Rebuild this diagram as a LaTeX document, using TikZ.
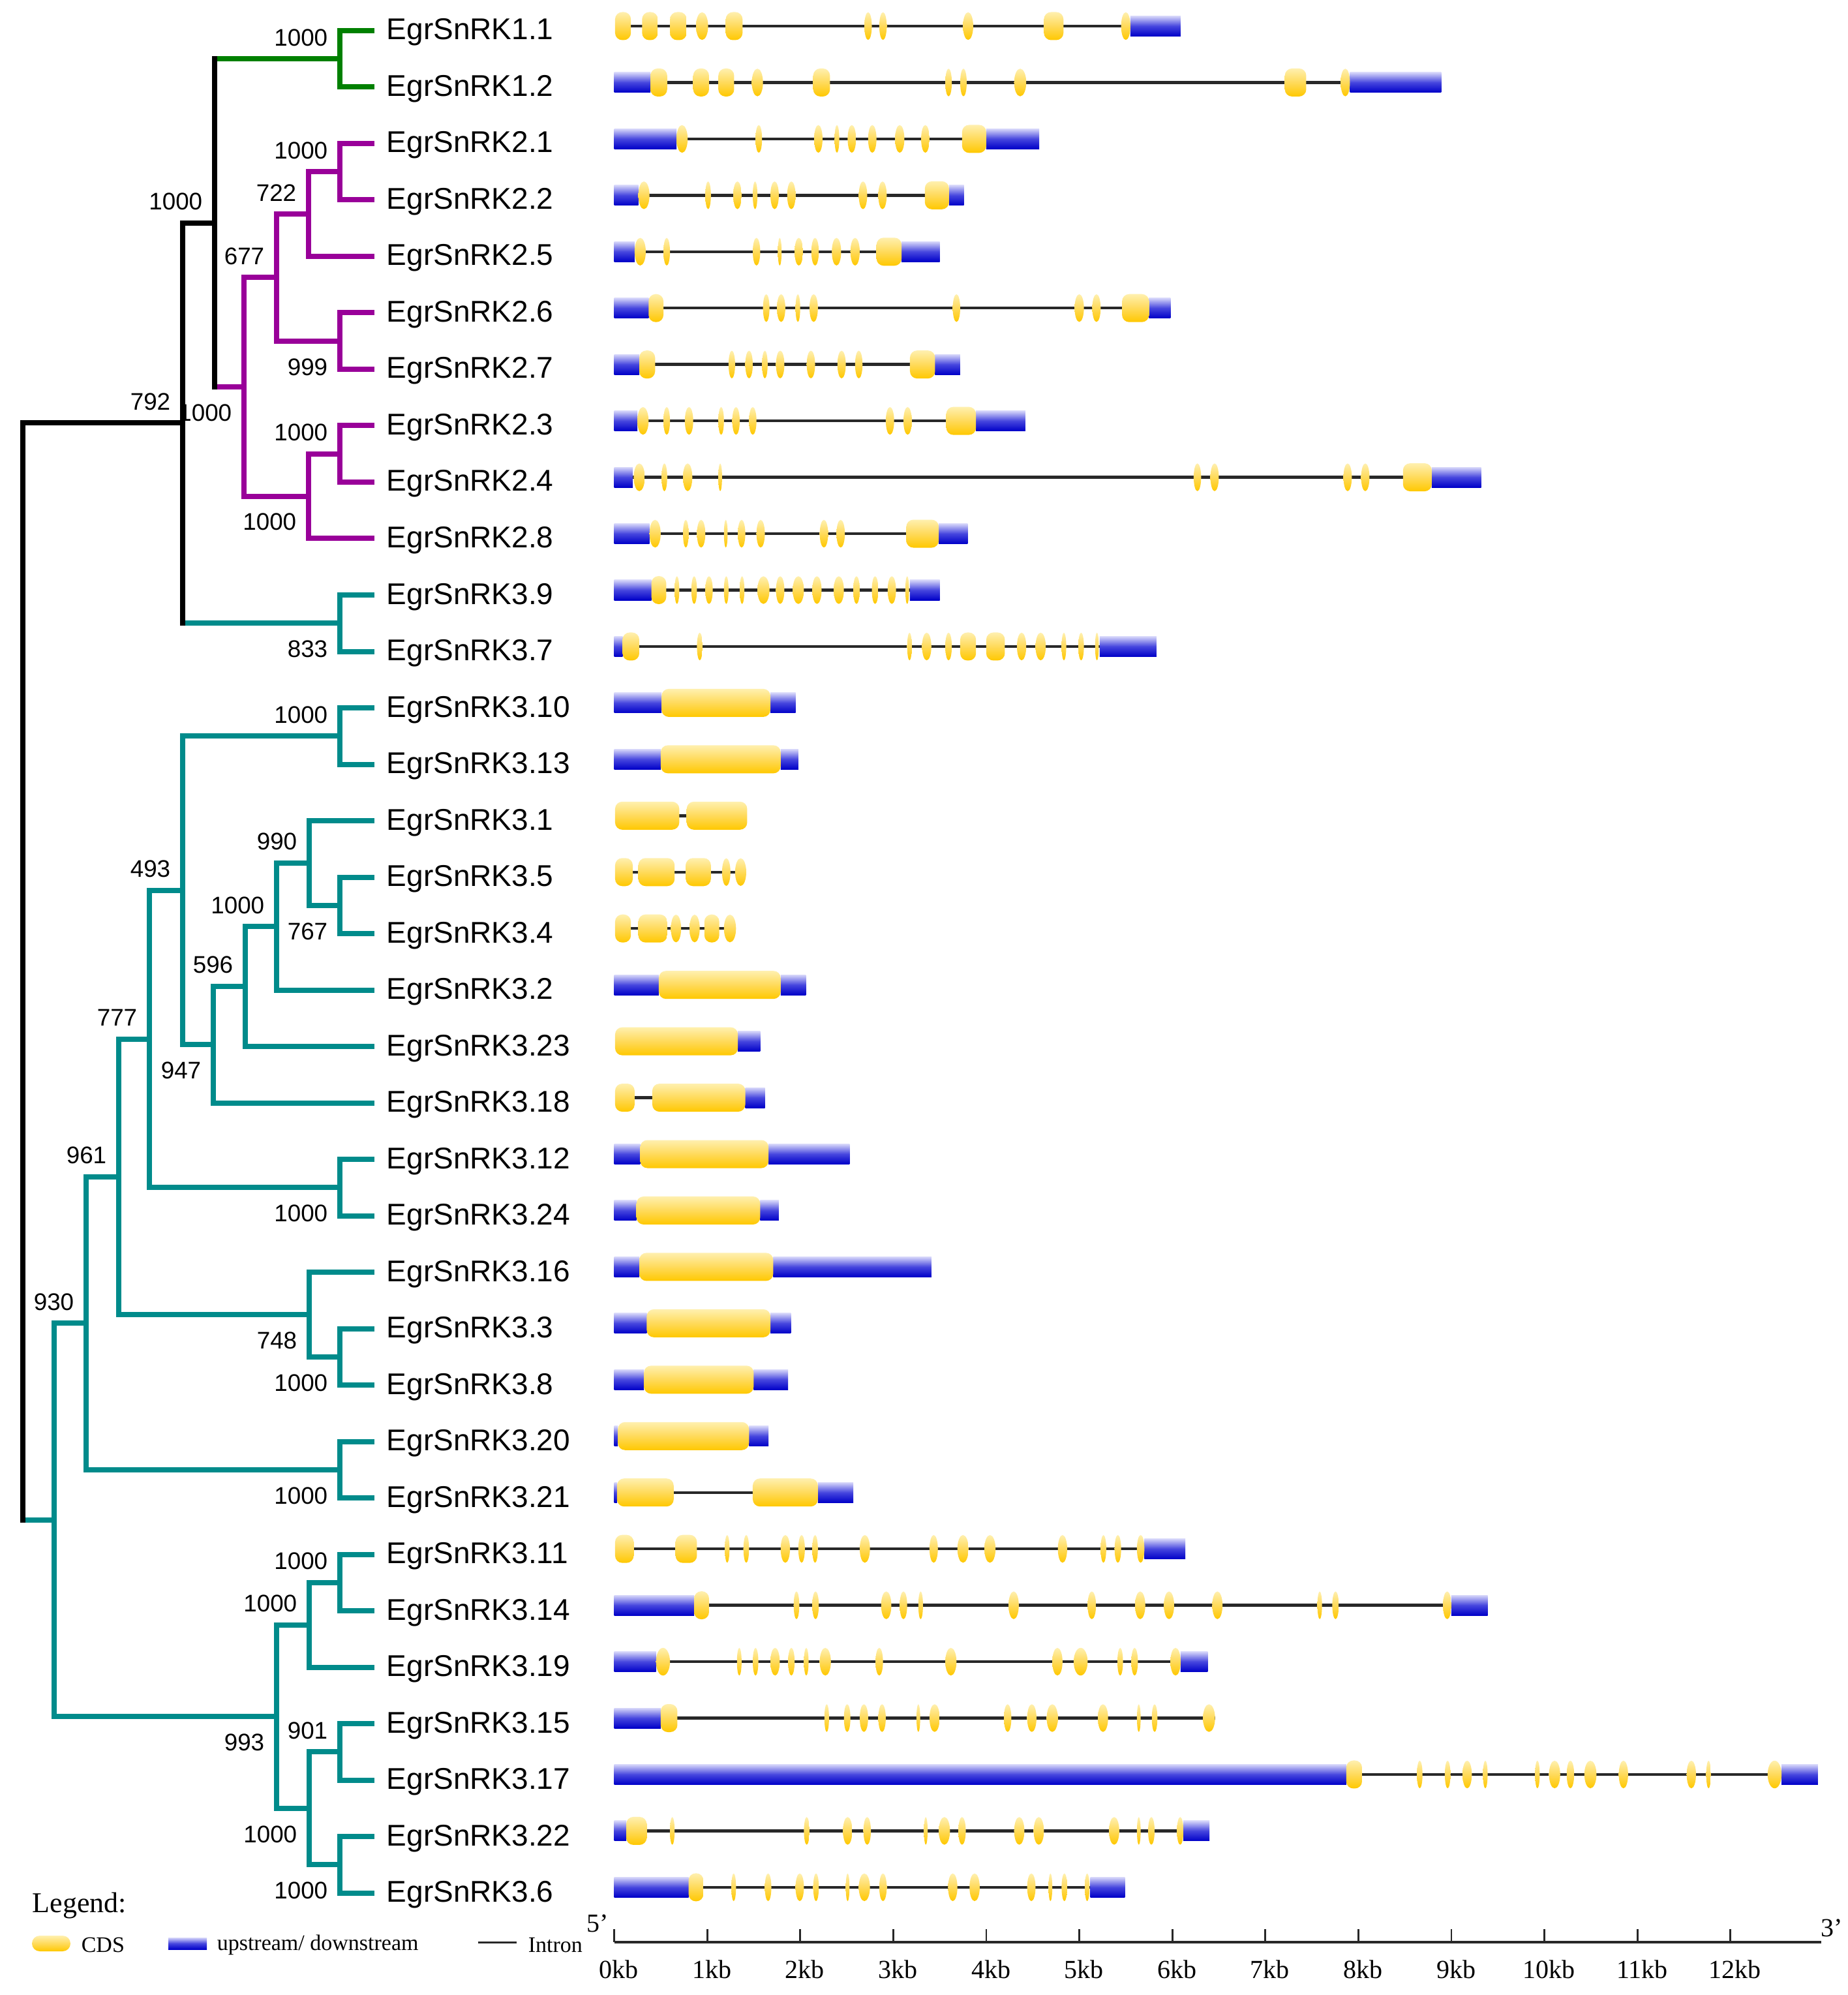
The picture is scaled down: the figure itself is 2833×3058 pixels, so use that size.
\documentclass[tikz,border=0pt]{standalone}
\usepackage{fontspec}
\setmainfont{Liberation Serif}
\newfontfamily\arialf{Liberation Sans}
\usetikzlibrary{calc}
\definecolor{gGreen}{RGB}{0,128,0}
\definecolor{gPurple}{RGB}{153,0,153}
\definecolor{gTeal}{RGB}{0,139,139}
\definecolor{cdsTop}{RGB}{255,240,175}
\definecolor{cdsMid}{RGB}{255,218,90}
\definecolor{cdsBot}{RGB}{255,200,0}
\definecolor{utrTop}{RGB}{215,215,250}
\definecolor{utrMid}{RGB}{70,70,222}
\definecolor{utrBot}{RGB}{0,0,200}
\definecolor{intronC}{RGB}{40,40,40}
\newcommand\cdsshape[2]{%
  \pgfmathsetmacro\cw{(#2-#1)*35.65}%
  \ifdim\cw pt<5.5pt
    \pgfmathsetmacro\cx{(#1+#2)/2}%
    \shade[cdsshade] (\cx,\gy) ellipse [x radius=\cw pt/2, y radius=5.3pt];
  \else
    \pgfmathsetmacro\cr{min(\cw/2,2.75)}%
    \shade[cdsshade, rounded corners=\cr pt] (#1,\gy-21.5) rectangle (#2,\gy+21.5);
  \fi}
\newcommand\gene[5]{%
  \pgfmathsetmacro\gy{40+86.45*#1}%
  \draw[intronline] (#2,\gy) -- (#3,\gy);
  \if\relax\detokenize{#4}\relax\else
    \foreach \a/\b in {#4}{\shade[utrshade] (\a,\gy-15.5) rectangle (\b,\gy+15.5);}%
  \fi
  \foreach \a/\b in {#5}{\cdsshape{\a}{\b}}}
\begin{document}
\begin{tikzpicture}[x=0.25pt,y=-0.25pt,
  br/.style={line width=2pt},
  vb/.style={line width=2pt, black, line cap=rect},
  bs/.style={font=\arialf\fontsize{9.2}{10}\selectfont, anchor=east, inner sep=0pt},
  bsa/.style={bs, xshift=-4.5pt, yshift=8.2pt},
  bsb/.style={bs, xshift=-4.5pt, yshift=-9.9pt},
  leaflab/.style={font=\arialf\fontsize{11.5}{13}\selectfont, anchor=base west, inner sep=0pt},
  intronline/.style={line width=1.1pt, draw=intronC},
  cdsshade/.style={top color=cdsTop, bottom color=cdsBot, middle color=cdsMid},
  utrshade/.style={top color=utrTop, bottom color=utrBot, middle color=utrMid},
  legtxt/.style={font=\fontsize{8.5}{10}\selectfont, anchor=west, inner sep=0pt},
  axlab/.style={font=\fontsize{10}{12}\selectfont, inner sep=0pt}]
\useasboundingbox (0,0) rectangle (2833,3058);
\fill[white] (0,0) rectangle (2833,3058);
% leaves
\foreach \i in {0,...,33}{\coordinate (L\i) at (574,{47+86.5*\i});}
\foreach \i/\t in {0/1.1,1/1.2,2/2.1,3/2.2,4/2.5,5/2.6,6/2.7,7/2.3,8/2.4,9/2.8,10/3.9,11/3.7,12/3.10,13/3.13,14/3.1,15/3.5,16/3.4,17/3.2,18/3.23,19/3.18,20/3.12,21/3.24,22/3.16,23/3.3,24/3.8,25/3.20,26/3.21,27/3.11,28/3.14,29/3.19,30/3.15,31/3.17,32/3.22,33/3.6}
  {\node[leaflab] (t\i) at (592,{47+86.5*\i+14}) {EgrSnRK\t};}
% internal nodes
\coordinate (n11) at (521,90.25);
\coordinate (n2a) at (521,263.25);
\coordinate (n2b) at (473,328.1);
\coordinate (n2c) at (521,522.75);
\coordinate (n2d) at (424,425.4);
\coordinate (n2e) at (521,695.75);
\coordinate (n2f) at (473,760.6);
\coordinate (n2) at (374,593);
\coordinate (n12) at (329,341.6);
\coordinate (n37) at (521,955.25);
\coordinate (nA) at (280,648.4);
\coordinate (m1) at (521,1128.25);
\coordinate (m2) at (521,1387.75);
\coordinate (m3) at (474,1322.9);
\coordinate (m4) at (424,1420.2);
\coordinate (m5) at (376,1512.1);
\coordinate (m6) at (327,1601.3);
\coordinate (m7) at (280,1364.8);
\coordinate (m8) at (521,1820.25);
\coordinate (m9) at (229,1592.5);
\coordinate (m10) at (521,2079.75);
\coordinate (m11) at (474,2014.9);
\coordinate (m12) at (182,1803.7);
\coordinate (m13) at (521,2252.75);
\coordinate (m14) at (132,2028.2);
\coordinate (m15) at (521,2425.75);
\coordinate (m16) at (474,2490.6);
\coordinate (m17) at (521,2685.25);
\coordinate (m18) at (521,2858.25);
\coordinate (m19) at (474,2771.75);
\coordinate (m20) at (424,2631.2);
\coordinate (m21) at (83,2329.7);
\coordinate (root) at (35,1489);
% branches
\draw[br,gGreen] (n11) |- (L0); \draw[br,gGreen] (n11) |- (L1);
\draw[br,gGreen] (n12|-n11) -- (n11);
\draw[br,gPurple] (n12|-n2) -- (n2);
\draw[vb] (n12|-n11) -- (n12|-n2);
\foreach \p/\c in {n2/n2d,n2/n2f,n2d/n2b,n2d/n2c,n2b/n2a,n2b/L4,n2a/L2,n2a/L3,n2c/L5,n2c/L6,n2f/n2e,n2f/L9,n2e/L7,n2e/L8}
  {\draw[br,gPurple] (\p) |- (\c);}
\draw[br,black] (nA|-n12) -- (n12);
\draw[br,gTeal] (nA|-n37) -- (n37);
\draw[vb] (nA|-n12) -- (nA|-n37);
\draw[br,gTeal] (n37) |- (L10); \draw[br,gTeal] (n37) |- (L11);
\draw[br,black] (root|-nA) -- (nA);
\draw[br,gTeal] (root|-m21) -- (m21);
\draw[vb] (root|-nA) -- (root|-m21);
\foreach \p/\c in {m21/m14,m21/m20,m14/m12,m14/m13,m12/m9,m12/m11,m9/m7,m9/m8,m7/m1,m7/m6,m1/L12,m1/L13,m6/m5,m6/L19,m5/m4,m5/L18,m4/m3,m4/L17,m3/L14,m3/m2,m2/L15,m2/L16,m8/L20,m8/L21,m11/L22,m11/m10,m10/L23,m10/L24,m13/L25,m13/L26,m20/m16,m20/m19,m16/m15,m16/L29,m15/L27,m15/L28,m19/m17,m19/m18,m17/L30,m17/L31,m18/L32,m18/L33}
  {\draw[br,gTeal] (\p) |- (\c);}
% bootstrap values
\node[bsa] (b1) at (n11) {1000};
\node[bsa] (b2) at (n12) {1000};
\node[bsa] (b3) at (n2a) {1000};
\node[bsa] (b4) at (n2b) {722};
\node[bsa] (b5) at (n2d) {677};
\node[bsb] (b6) at (n2c) {999};
\node[bsa] (b7) at (nA) {792};
\node[bsb] (b8) at (n2) {1000};
\node[bsa] (b9) at (n2e) {1000};
\node[bsb] (b10) at (n2f) {1000};
\node[bsb] (b11) at (n37) {833};
\node[bsa] (b12) at (m1) {1000};
\node[bsa] (b13) at (m3) {990};
\node[bsa] (b14) at (m7) {493};
\node[bsa] (b15) at (m4) {1000};
\node[bsb] (b16) at (m2) {767};
\node[bsa] (b17) at (m5) {596};
\node[bsa] (b18) at (m9) {777};
\node[bsb] (b19) at (m6) {947};
\node[bsb] (b20) at (m8) {1000};
\node[bsa] (b21) at (m12) {961};
\node[bsa] (b22) at (m14) {930};
\node[bsb] (b23) at (m11) {748};
\node[bsb] (b24) at (m10) {1000};
\node[bsb] (b25) at (m13) {1000};
\node[bsa] (b26) at (m15) {1000};
\node[bsa] (b27) at (m16) {1000};
\node[bsb] (b28) at (m20) {993};
\node[bsa] (b29) at (m17) {901};
\node[bsb] (b30) at (m19) {1000};
\node[bsb] (b31) at (m18) {1000};
% gene structures
\begin{scope}[shift={(235.375pt,0pt)}, x=35.65pt]
\gene{0}{0.01}{6.09}{5.55/6.09}{0.01/0.18,0.30/0.47,0.60/0.78,0.88/1.01,1.20/1.38,2.69/2.77,2.85/2.93,3.75/3.86,4.62/4.83,5.45/5.55}
\gene{1}{0}{8.89}{0/0.39,7.91/8.89}{0.39/0.57,0.85/1.02,1.12/1.29,1.48/1.60,2.14/2.32,3.56/3.63,3.72/3.79,4.30/4.43,7.21/7.44,7.81/7.91}
\gene{2}{0}{4.57}{0/0.67,4.00/4.57}{0.67/0.79,1.52/1.59,2.15/2.24,2.37/2.42,2.51/2.60,2.73/2.82,3.02/3.12,3.30/3.39,3.74/4.00}
\gene{3}{0}{3.76}{0/0.26,3.60/3.76}{0.26/0.38,0.98/1.04,1.28/1.37,1.49/1.54,1.68/1.77,1.86/1.95,2.63/2.72,2.84/2.93,3.34/3.60}
\gene{4}{0}{3.50}{0/0.22,3.09/3.50}{0.22/0.34,0.53/0.60,1.49/1.57,1.76/1.80,1.94/2.03,2.12/2.20,2.34/2.44,2.54/2.64,2.82/3.09}
\gene{5}{0}{5.98}{0/0.37,5.75/5.98}{0.37/0.53,1.60/1.67,1.75/1.84,1.95/2.00,2.10/2.19,3.64/3.72,4.95/5.05,5.14/5.23,5.46/5.75}
\gene{6}{0}{3.72}{0/0.27,3.45/3.72}{0.27/0.44,1.23/1.30,1.41/1.49,1.59/1.65,1.74/1.83,2.07/2.16,2.40/2.49,2.59/2.67,3.18/3.45}
\gene{7}{0}{4.42}{0/0.25,3.89/4.42}{0.25/0.37,0.53/0.60,0.76/0.85,1.12/1.18,1.27/1.35,1.45/1.53,2.92/3.01,3.11/3.20,3.57/3.89}
\gene{8}{0}{9.32}{0/0.20,8.79/9.32}{0.21/0.33,0.51/0.57,0.74/0.84,1.12/1.16,6.23/6.31,6.41/6.50,7.84/7.93,8.03/8.12,8.48/8.79}
\gene{9}{0}{3.80}{0/0.38,3.49/3.80}{0.38/0.50,0.74/0.80,0.89/0.98,1.18/1.22,1.33/1.41,1.53/1.62,2.21/2.30,2.39/2.48,3.14/3.49}
\gene{10}{0}{3.50}{0/0.40,3.18/3.50}{0.40/0.56,0.65/0.70,0.83/0.89,0.98/1.06,1.18/1.23,1.35/1.40,1.54/1.67,1.74/1.83,1.92/2.04,2.13/2.23,2.36/2.47,2.57/2.64,2.77/2.84,2.94/3.03,3.13/3.17}
\gene{11}{0}{5.83}{0/0.09,5.22/5.83}{0.09/0.27,0.89/0.95,3.15/3.20,3.31/3.41,3.56/3.63,3.72/3.89,4.00/4.20,4.33/4.43,4.53/4.64,4.81/4.86,4.99/5.05,5.17/5.21}
\gene{12}{0}{1.95}{0/0.51,1.68/1.95}{0.51/1.68}
\gene{13}{0}{1.98}{0/0.50,1.79/1.98}{0.50/1.79}
\gene{14}{0.01}{1.43}{}{0.01/0.70,0.78/1.43}
\gene{15}{0.01}{1.42}{}{0.01/0.20,0.26/0.65,0.77/1.04,1.16/1.25,1.30/1.42}
\gene{16}{0.01}{1.31}{}{0.01/0.18,0.26/0.57,0.61/0.72,0.81/0.92,0.97/1.13,1.18/1.31}
\gene{17}{0}{2.06}{0/0.48,1.79/2.06}{0.48/1.79}
\gene{18}{0.01}{1.57}{1.33/1.57}{0.01/1.33}
\gene{19}{0.01}{1.62}{1.41/1.62}{0.01/0.22,0.41/1.41}
\gene{20}{0}{2.53}{0/0.28,1.66/2.53}{0.28/1.66}
\gene{21}{0}{1.77}{0/0.24,1.57/1.77}{0.24/1.57}
\gene{22}{0}{3.41}{0/0.27,1.71/3.41}{0.27/1.71}
\gene{23}{0}{1.90}{0/0.35,1.68/1.90}{0.35/1.68}
\gene{24}{0}{1.87}{0/0.32,1.50/1.87}{0.32/1.50}
\gene{25}{0}{1.66}{0/0.04,1.45/1.66}{0.04/1.45}
\gene{26}{0}{2.57}{0/0.03,2.19/2.57}{0.03/0.64,1.49/2.19}
\gene{27}{0.01}{6.14}{5.70/6.14}{0.01/0.21,0.66/0.89,1.19/1.24,1.39/1.45,1.79/1.89,1.98/2.05,2.13/2.19,2.64/2.75,3.39/3.48,3.69/3.81,3.98/4.10,4.77/4.87,5.23/5.29,5.38/5.45,5.62/5.70}
\gene{28}{0}{9.39}{0/0.86,9.00/9.39}{0.86/1.02,1.93/1.99,2.13/2.20,2.87/2.98,3.07/3.15,3.27/3.32,4.24/4.35,5.09/5.18,5.60/5.71,5.91/6.02,6.43/6.54,7.56/7.61,7.72/7.79,8.91/9.00}
\gene{29}{0}{6.38}{0/0.45,6.09/6.38}{0.45/0.60,1.32/1.37,1.49/1.55,1.68/1.78,1.87/1.94,2.04/2.09,2.21/2.33,2.81/2.89,3.56/3.68,4.71/4.82,4.94/5.09,5.41/5.47,5.56/5.63,5.98/6.09}
\gene{30}{0}{6.46}{0/0.50}{0.50/0.68,2.26/2.31,2.47/2.54,2.64/2.73,2.84/2.92,3.25/3.29,3.39/3.50,4.19/4.27,4.44/4.54,4.65/4.77,5.20/5.31,5.62/5.66,5.78/5.84,6.33/6.46}
\gene{31}{0}{12.94}{0/7.87,12.55/12.94}{7.87/8.04,8.63/8.69,8.93/8.99,9.12/9.22,9.34/9.39,9.90/9.95,10.05/10.17,10.24/10.32,10.43/10.56,10.80/10.90,11.53/11.63,11.74/11.79,12.40/12.55}
\gene{32}{0}{6.40}{0/0.13,6.12/6.40}{0.13/0.35,0.60/0.65,2.04/2.10,2.46/2.56,2.68/2.76,3.33/3.37,3.49/3.61,3.70/3.78,4.30/4.41,4.51/4.62,5.32/5.43,5.62/5.66,5.74/5.81,6.05/6.12}
\gene{33}{0}{5.49}{0/0.80,5.12/5.49}{0.80/0.96,1.26/1.31,1.62/1.69,1.95/2.04,2.14/2.20,2.49/2.53,2.63/2.75,2.85/2.93,3.59/3.69,3.82/3.93,4.44/4.53,4.67/4.71,4.81/4.87,5.06/5.11}
% axis
\coordinate (ax0) at (0,2977);
\coordinate (ax1) at (12.98,2977);
\draw[line width=1pt, draw=intronC] (ax0) -- (ax1);
\foreach \k in {0,...,12}{
  \draw[line width=0.7pt, draw=intronC] (\k,2957) -- (\k,2977);
  \node[axlab] (k\k) at (\k+0.05,3019) {\k kb};}
\end{scope}
\node[axlab] (five) at (916,2948) {5'};
\node[axlab] (three) at (2808,2955) {3'};
% legend
\node[font=\fontsize{11}{13}\selectfont, anchor=west, inner sep=0pt] (leg) at (49,2921) {Legend:};
\shade[cdsshade, rounded corners=3pt] (49,2967) rectangle (108,2991);
\node[legtxt] (lcds) at (124,2981) {CDS};
\shade[utrshade] (258,2970) rectangle (317,2988);
\node[legtxt] (lutr) at (332,2981) {upstream/ downstream};
\coordinate (li0) at (733,2977);
\coordinate (li1) at (792,2977);
\draw[line width=0.75pt, draw=intronC] (li0) -- (li1);
\node[legtxt] (lint) at (809,2981) {Intron};
\end{tikzpicture}
\end{document}
